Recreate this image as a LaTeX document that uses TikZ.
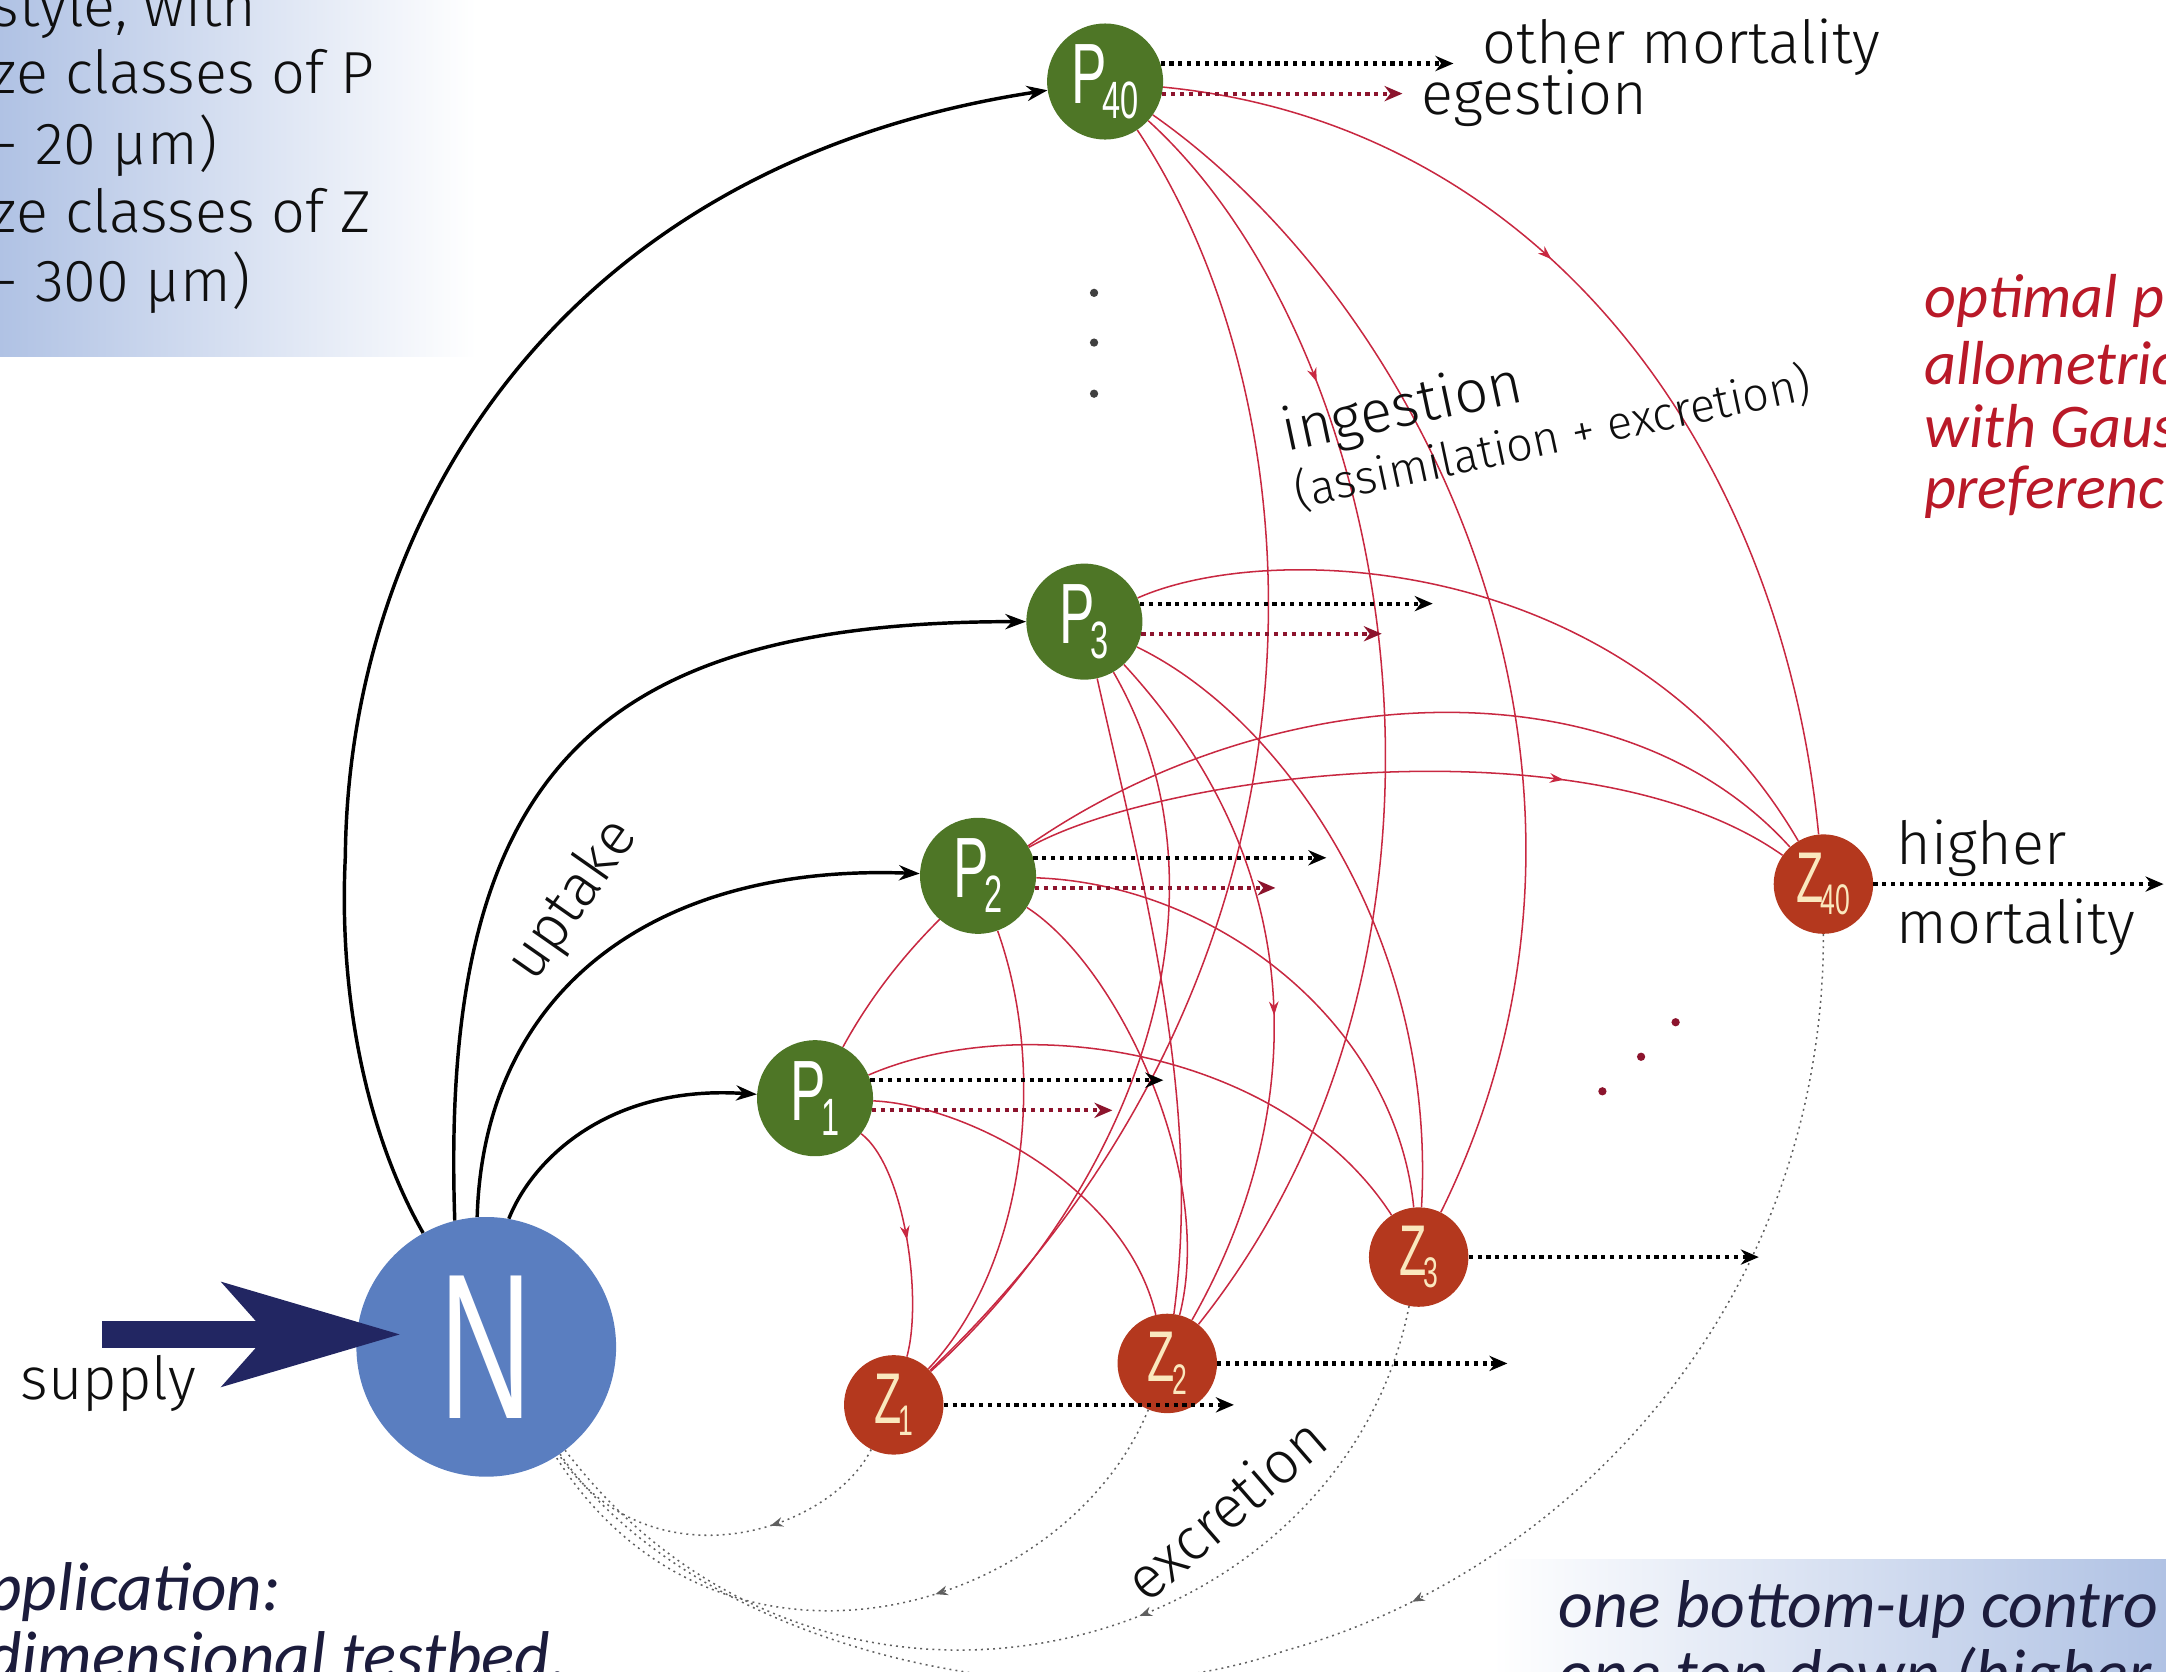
\documentclass[tikz,border=0pt]{standalone}
\usepackage{fontspec}
\setmainfont{Fira Sans Light}
\newfontfamily\calib{Carlito}
\newfontfamily\nodefont[FakeStretch=0.62]{Liberation Sans}
\usetikzlibrary{arrows.meta,decorations.markings}
\pgfdeclarelayer{bg}
\pgfsetlayers{bg,main}
\definecolor{pgreen}{RGB}{78,118,38}
\definecolor{zred}{RGB}{180,56,30}
\definecolor{nblue}{RGB}{90,126,192}
\definecolor{ingred}{RGB}{200,40,65}
\definecolor{egred}{RGB}{140,20,45}
\definecolor{navy}{RGB}{34,38,98}
\definecolor{boxblue}{RGB}{176,194,228}
\definecolor{optred}{RGB}{185,25,40}
\definecolor{txt}{RGB}{15,15,15}
\definecolor{navytxt}{RGB}{28,28,60}
\definecolor{zlabc}{RGB}{250,232,190}
\definecolor{excgray}{RGB}{95,95,95}
\newcommand\plab[2]{\nodefont\fontsize{62}{62}\selectfont #1\kern-3pt\raisebox{-11pt}{\fontsize{38}{38}\selectfont #2}}
\newcommand\zlab[2]{\nodefont\fontsize{52}{52}\selectfont #1\kern-2pt\raisebox{-9pt}{\fontsize{31}{31}\selectfont #2}}
\tikzset{
  pnode/.style={circle,fill=pgreen,minimum size=84pt,inner sep=0pt,text=white},
  znode/.style={circle,fill=zred,minimum size=72pt,inner sep=0pt,text=zlabc},
  nnode/.style={circle,fill=nblue,minimum size=188pt,inner sep=0pt,text=white},
  uptake/.style={draw=black,line width=2.5pt,-{Stealth[length=15pt,width=11pt]}},
  ingest/.style={draw=ingred,line width=1.1pt},
  midarrow/.style={postaction={decorate},decoration={markings,mark=at position #1 with {\arrow{Stealth[length=10pt,width=7pt]}}}},
  mort/.style={draw=black,line width=3pt,dash pattern=on 3pt off 3.4pt,-{Stealth[length=13pt,width=11pt]}},
  egest/.style={mort,draw=egred},
  excr/.style={draw=excgray,line width=1.1pt,dash pattern=on 1.4pt off 3pt},
  exarrow/.style={postaction={decorate},decoration={markings,mark=at position #1 with {\arrow{Stealth[length=9pt,width=7pt]}}}},
  lab/.style={font=\fontsize{43}{50}\selectfont,text=txt,inner sep=0pt},
  itlab/.style={font=\calib\itshape\fontsize{45}{50}\selectfont,inner sep=0pt},
  itbig/.style={font=\calib\itshape\fontsize{50}{50}\selectfont,inner sep=0pt,text=navytxt,anchor=base west},
}
\begin{document}
\begin{tikzpicture}[x=1pt,y=-1pt]
\useasboundingbox (0,0) rectangle (1568,1210);
\clip (0,0) rectangle (1568,1210);
% nodes
\node[nnode] (N) at (352,975) {\nodefont\fontsize{150}{150}\selectfont N};
\node[pnode] (P40) at (800,59) {\plab{P}{40}};
\node[pnode] (P3) at (785,450) {\plab{P}{3}};
\node[pnode] (P2) at (708,634) {\plab{P}{2}};
\node[pnode] (P1) at (590,795) {\plab{P}{1}};
\node[znode] (Z1) at (647,1017) {\zlab{Z}{1}};
\node[znode] (Z2) at (845,987) {\zlab{Z}{2}};
\node[znode] (Z3) at (1027,910) {\zlab{Z}{3}};
\node[znode] (Z40) at (1320,640) {\zlab{Z}{40}};
\begin{pgfonlayer}{bg}
\shade[left color=boxblue,right color=white] (0,0) rectangle (345,258);
\shade[left color=white,right color=boxblue] (1080,1129) rectangle (1568,1210);
% ingestion
\draw[ingest,midarrow=0.5] (P1) .. controls (655,845) and (668,940) .. (Z1);
\draw[ingest] (P1) .. controls (700,800) and (815,860) .. (Z2);
\draw[ingest] (P1) .. controls (740,730) and (930,760) .. (Z3);
\draw[ingest] (P1) .. controls (740,520) and (1130,430) .. (Z40);
\draw[ingest,midarrow=0.7] (P2) .. controls (840,560) and (1150,520) .. (Z40);
\draw[ingest] (P2) .. controls (810,700) and (880,850) .. (Z2);
\draw[ingest] (P2) .. controls (880,640) and (1010,740) .. (Z3);
\draw[ingest] (P2) .. controls (760,780) and (740,920) .. (Z1);
\draw[ingest] (P3) .. controls (920,390) and (1180,400) .. (Z40);
\draw[ingest] (P3) .. controls (930,520) and (1040,680) .. (Z3);
\draw[ingest,midarrow=0.55] (P3) .. controls (960,640) and (940,820) .. (Z2);
\draw[ingest] (P3) .. controls (830,650) and (870,800) .. (Z2);
\draw[ingest] (P3) .. controls (900,650) and (820,860) .. (Z1);
\draw[ingest,midarrow=0.4] (P40) .. controls (1120,90) and (1290,330) .. (Z40);
\draw[ingest] (P40) .. controls (1030,220) and (1200,560) .. (Z3);
\draw[ingest,midarrow=0.24] (P40) .. controls (1010,250) and (1090,680) .. (Z2);
\draw[ingest] (P40) .. controls (960,300) and (980,700) .. (Z1);
% excretion
\coordinate (ex40) at (930,1195);
\draw[excr,exarrow=0.35] (Z1) .. controls (600,1110) and (470,1150) .. (N);
\draw[excr,exarrow=0.4] (Z2) .. controls (770,1170) and (520,1240) .. (N);
\draw[excr,exarrow=0.4] (Z3) .. controls (970,1200) and (600,1300) .. (N);
\draw[excr,exarrow=0.47] (Z40) .. controls (1320,950) and (1130,1140) .. (ex40) .. controls (760,1255) and (500,1190) .. (N);
% uptake
\coordinate (uk) at (250,620);
\draw[uptake] (N.119) .. controls (265,820) and (245,720) .. (uk) .. controls (252,380) and (400,120) .. (P40);
\draw[uptake] (N.104) .. controls (318,560) and (430,450) .. (P3);
\draw[uptake] (N.94) .. controls (350,720) and (470,625) .. (P2);
\draw[uptake] (N.80) .. controls (385,840) and (440,785) .. (P1);
\end{pgfonlayer}
% mortality / egestion
\foreach \p in {P40,P3,P2,P1}{
  \path (\p.18) ++(212,0) coordinate (\p m);
  \path (\p.-12) ++(174,0) coordinate (\p e);
  \draw[mort] (\p.18) -- (\p m);
  \draw[egest] (\p.-12) -- (\p e);
}
\foreach \z in {Z1,Z2,Z3,Z40}{
  \path (\z.east) ++(210,0) coordinate (\z m);
  \draw[mort] (\z.east) -- (\z m);
}
% supply
\coordinate (sup0) at (74,966);
\coordinate (sup1) at (290,966);
\draw[navy,line width=19pt,-{Stealth[length=128pt,width=74pt,inset=32pt]}] (sup0) -- (sup1);
% dots
\fill[black!75] (792,212) circle (3pt) (792,248) circle (3pt) (792,285) circle (3pt);
\fill[egred] (1213,740) circle (3pt) (1188,765) circle (3pt) (1160,790) circle (3pt);
% labels
\node[lab,anchor=base west] (om) at (1073,46) {other mortality};
\node[lab,anchor=base west] (eg) at (1029,83) {egestion};
\node[lab,anchor=base west] (hi) at (1373,626) {higher};
\node[lab,anchor=base west] (mo) at (1373,683) {mortality};
\node[lab,anchor=base west,rotate=12] (ing) at (931,327) {ingestion};
\node[lab,anchor=base west,rotate=12,font=\fontsize{34}{40}\selectfont] (ass) at (940,368) {(assimilation + excretion)};
\node[lab,rotate=55] (upt) at (415,652) {uptake};
\node[lab,rotate=41] (exc) at (887,1092) {excretion};
\node[lab,anchor=base west] (sup) at (15,1013) {supply};
\node[lab,anchor=base west] (t1) at (-6,19) {style, with};
\node[lab,anchor=base west] (t2) at (-6,68) {ze classes of P};
\node[lab,anchor=base west] (t3) at (-4,119) {- 20 µm)};
\node[lab,anchor=base west] (t4) at (-6,168) {ze classes of Z};
\node[lab,anchor=base west] (t5) at (-4,218) {- 300 µm)};
\node[itlab,text=optred,anchor=base west] (o1) at (1393,230) {optimal p};
\node[itlab,text=optred,anchor=base west] (o2) at (1393,278) {allometric};
\node[itlab,text=optred,anchor=base west] (o3) at (1393,324) {with Gaus};
\node[itlab,text=optred,anchor=base west] (o4) at (1393,368) {preferenc};
\node[itbig] (b1) at (-10,1166) {pplication:};
\node[itbig] (b2) at (-10,1216) {dimensional testbed,};
\node[itbig,font=\calib\itshape\fontsize{49}{50}\selectfont] (r1) at (1128,1178) {one bottom-up contro};
\node[itbig,font=\calib\itshape\fontsize{49}{50}\selectfont] (r2) at (1128,1228) {one top-down (higher};
\end{tikzpicture}
\end{document}
